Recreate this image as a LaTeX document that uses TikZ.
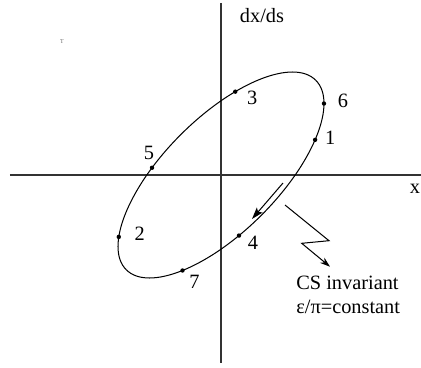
\documentclass[tikz,border=0pt]{standalone}
\usepackage{fontspec}
\setmainfont{Liberation Serif}
\usetikzlibrary{positioning, arrows.meta, calc}

\begin{document}
\begin{tikzpicture}[
  x=0.59pt, y=0.59pt,
  every node/.style={font=\fontsize{12}{14}\selectfont},
  axis/.style  = {line width=0.6pt, black!80},
  orbit/.style = {line width=0.6pt},
  pt/.style    = {circle, fill, inner sep=0pt, minimum size=2.6pt},
  num/.style   = {inner sep=0pt},
  flow/.style  = {line width=0.6pt, -{Stealth[length=7pt, width=4.5pt, inset=1.5pt]}},
  zig/.style   = {line width=0.6pt, -{Stealth[length=6pt, width=4pt]}},
]
  \useasboundingbox (-221,-192) rectangle (200,175);
  % axes
  \draw[axis] (-211,0) -- (200,0);
  \draw[axis] (0,172) -- (0,-188);
  \node[num] (xlab) at (194,-14) {x};
  \node[num] (ylab) at (41,159)  {dx/ds};
  \node[num, font=\fontsize{3.5}{4}\selectfont, black!60] (tau) at (-159,133) {T};
  % phase space ellipse
  \begin{scope}[rotate=45]
    \draw[orbit] (0,0) ellipse [x radius=134, y radius=57];
    \foreach \t/\n in {-47/p1, 150/p2, 59/p3, 257/p4, 109/p5, -23/p6, 225/p7}
       \node[pt] (\n) at (\t:134 and 57) {};
  \end{scope}
  \node[num] (l1) at ($(p1) + (15,2)$)   {1};
  \node[num] (l2) at ($(p2) + (21,3)$)   {2};
  \node[num] (l3) at ($(p3) + (17,-6)$)  {3};
  \node[num] (l4) at ($(p4) + (14,-7)$)  {4};
  \node[num] (l5) at ($(p5) + (-3,15)$)  {5};
  \node[num] (l6) at ($(p6) + (19,3)$)   {6};
  \node[num] (l7) at ($(p7) + (12,-11)$) {7};
  % direction of motion
  \coordinate (fa) at (62,-8);
  \coordinate (fb) at (31,-44);
  \draw[flow] (fa) -- (fb);
  % invariant note
  \node[num, anchor=west, align=left] (inv) at (75,-120) {CS invariant\\ε/π=constant};
  \coordinate (za) at (64,-30);
  \coordinate (zb) at (108,-65.7);
  \coordinate (zc) at (80.7,-68.3);
  \coordinate (zd) at (109,-91.7);
  \draw[zig] (za) -- (zb) -- (zc) -- (zd);
\end{tikzpicture}
\end{document}
